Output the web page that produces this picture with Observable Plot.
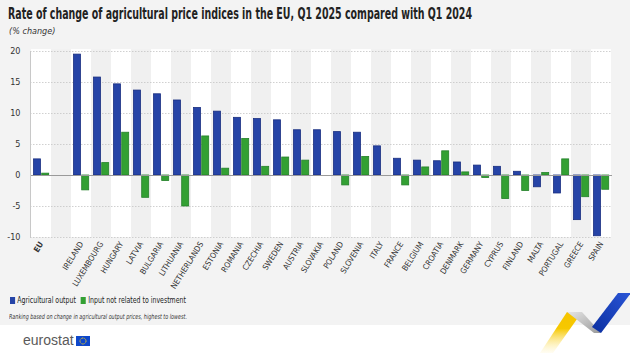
<!DOCTYPE html>
<html><head><meta charset="utf-8">
<script src="https://cdn.jsdelivr.net/npm/d3@7"></script>
<script src="https://cdn.jsdelivr.net/npm/@observablehq/plot@0.6"></script>
<style>
body{margin:0;width:630px;height:353px;background:#f3f3f3;position:relative;overflow:hidden;font-family:"Liberation Sans Narrow","DejaVu Sans Condensed","Liberation Sans",sans-serif;color:#333;}
.abs{position:absolute;white-space:nowrap;transform-origin:0 0;}
#title{left:8px;top:5px;font-size:15px;font-weight:bold;color:#222;}
#sub{left:9px;top:26px;font-size:9px;font-style:italic;color:#333;}
#chart{position:absolute;left:0;top:40px;}
#legend{left:10px;top:294px;font-size:9.5px;color:#222;}
#legend span.sw{display:inline-block;width:7px;height:7px;margin-right:3px;vertical-align:-1px;}
#legend span.item{margin-right:7px;}
#note{left:9px;top:313px;font-size:7px;font-style:italic;color:#333;}
#footer{position:absolute;left:0;top:325px;width:630px;height:28px;background:#fff;}
#logo{left:23px;top:332px;font-family:"Liberation Sans","DejaVu Sans",sans-serif;font-size:14px;color:#5a5a5a;}
</style></head><body>
<div id="title" class="abs">Rate of change of agricultural price indices in the EU, Q1 2025 compared with Q1 2024</div>
<div id="sub" class="abs">(% change)</div>
<div id="chart"></div>
<div id="legend" class="abs"><span class="item"><span class="sw" style="background:#2644A7"></span>Agricultural output</span><span class="item"><span class="sw" style="background:#33A033"></span>Input not related to investment</span></div>
<div id="note" class="abs">Ranking based on change in agricultural output prices, highest to lowest.</div>
<div id="footer"></div>
<div id="logo" class="abs">eurostat<svg width="14" height="10" style="margin-left:2px;vertical-align:-1px"><rect width="14" height="10" fill="#0e47cb"/><circle cx="7" cy="5" r="3" fill="none" stroke="#ffd617" stroke-width="1" stroke-dasharray="1,0.6"/></svg></div>
<svg class="abs" style="left:530px;top:285px" width="100" height="68" viewBox="530 285 100 68">
  <defs>
    <linearGradient id="gy" x1="0" y1="1" x2="0" y2="0"><stop offset="0" stop-color="#fff3c0" stop-opacity="0.2"/><stop offset="0.6" stop-color="#f6c800"/><stop offset="1" stop-color="#f6c400"/></linearGradient>
    <linearGradient id="gg" x1="0" y1="0" x2="1" y2="1"><stop offset="0" stop-color="#e6e6e6"/><stop offset="1" stop-color="#9a9a9a"/></linearGradient>
    <linearGradient id="gb" x1="0" y1="1" x2="1" y2="0"><stop offset="0" stop-color="#0b2fa0"/><stop offset="1" stop-color="#2a55d6"/></linearGradient>
  </defs>
  <polygon points="540,353 553,353 582,312 567,312" fill="url(#gy)"/>
  <polygon points="567,312 582,312 601,333 594,333" fill="url(#gg)"/>
  <polygon points="592,327 618,293 631,293 601,333" fill="url(#gb)"/>
</svg>
<script>
const countries = ["EU"," ","IRELAND","LUXEMBOURG","HUNGARY","LATVIA","BULGARIA","LITHUANIA","NETHERLANDS","ESTONIA","ROMANIA","CZECHIA","SWEDEN","AUSTRIA","SLOVAKIA","POLAND","SLOVENIA","ITALY","FRANCE","BELGIUM","CROATIA","DENMARK","GERMANY","CYPRUS","FINLAND","MALTA","PORTUGAL","GREECE","SPAIN"];
const agriculturalOutput = [2.6,null,19.5,15.8,14.7,13.7,13.1,12.1,10.9,10.3,9.3,9.1,8.9,7.3,7.3,7.0,6.9,4.7,2.7,2.4,2.3,2.1,1.6,1.4,0.6,-1.9,-2.9,-7.2,-9.8];
const inputNotInvestment = [0.3,null,-2.4,2.0,6.9,-3.6,-0.9,-5.0,6.3,1.1,5.9,1.4,2.9,2.4,null,-1.6,3.0,null,-1.6,1.3,3.9,0.5,-0.4,-3.8,-2.5,0.4,2.6,-3.5,-2.3];
const yTicks = [-10,-5,0,5,10,15,20];
const seriesNames = ["Agricultural output","Input not related to investment"];

const rows = countries.map((c,i)=>({country:c, output:agriculturalOutput[i], input:inputNotInvestment[i], i}));
const blue = "#2644A7", blueStroke = "#1a2f80", green = "#33A033", greenStroke = "#24802a";

const chart = Plot.plot({
  width: 630, height: 255,
  marginLeft: 30, marginRight: 18, marginTop: 11, marginBottom: 58,
  style: {fontFamily: '"Liberation Sans Narrow","DejaVu Sans Condensed","Liberation Sans",sans-serif', background: "transparent", color: "#333"},
  x: {type: "band", domain: countries, padding: 0, axis: null},
  y: {domain: [-10, 20], axis: null},
  marks: [
    Plot.barY(rows.filter(d => d.i % 2 === 0), {x: "country", y1: -10, y2: 20.3, fill: "#ffffff"}),
    Plot.barY(rows.filter(d => d.i % 2 === 1), {x: "country", y1: -10, y2: 20.3, fill: "#f0f0f0"}),
    Plot.ruleY(yTicks.filter(t => t !== 0), {stroke: "#c4c4c4", strokeDasharray: "1.5,1.5", strokeWidth: 0.8}),
    Plot.barY(rows.filter(d => d.output != null), {x: "country", y: "output", fill: blue, stroke: blueStroke, strokeWidth: 0.8, insetLeft: 2.5, insetRight: 10.5}),
    Plot.barY(rows.filter(d => d.input != null), {x: "country", y: "input", fill: green, stroke: greenStroke, strokeWidth: 0.8, insetLeft: 10.7, insetRight: 2.3}),
    Plot.ruleY([0], {stroke: "#9a9a9a", strokeWidth: 1}),
    Plot.frame({anchor: "left", stroke: "#c8c8c8"}),
    Plot.axisY({ticks: yTicks, tickSize: 0, tickPadding: 10, fontSize: 9, label: null, tickFormat: d => String(d)}),
    Plot.axisX({ticks: ["EU"], tickSize: 0, tickPadding: 5, tickRotate: -58, fontSize: 8, fontWeight: "bold", label: null}),
    Plot.axisX({ticks: countries.filter(c => c !== "EU" && c.trim() !== ""), tickSize: 0, tickPadding: 5, tickRotate: -58, fontSize: 8, label: null})
  ]
});
document.getElementById("chart").appendChild(chart);

function fit(id, w){ const el=document.getElementById(id); const r=el.getBoundingClientRect().width; el.style.transform=`scaleX(${w/r})`; }
fit("title", 464);
fit("legend", 181);
fit("note", 178);
</script>
</body></html>
